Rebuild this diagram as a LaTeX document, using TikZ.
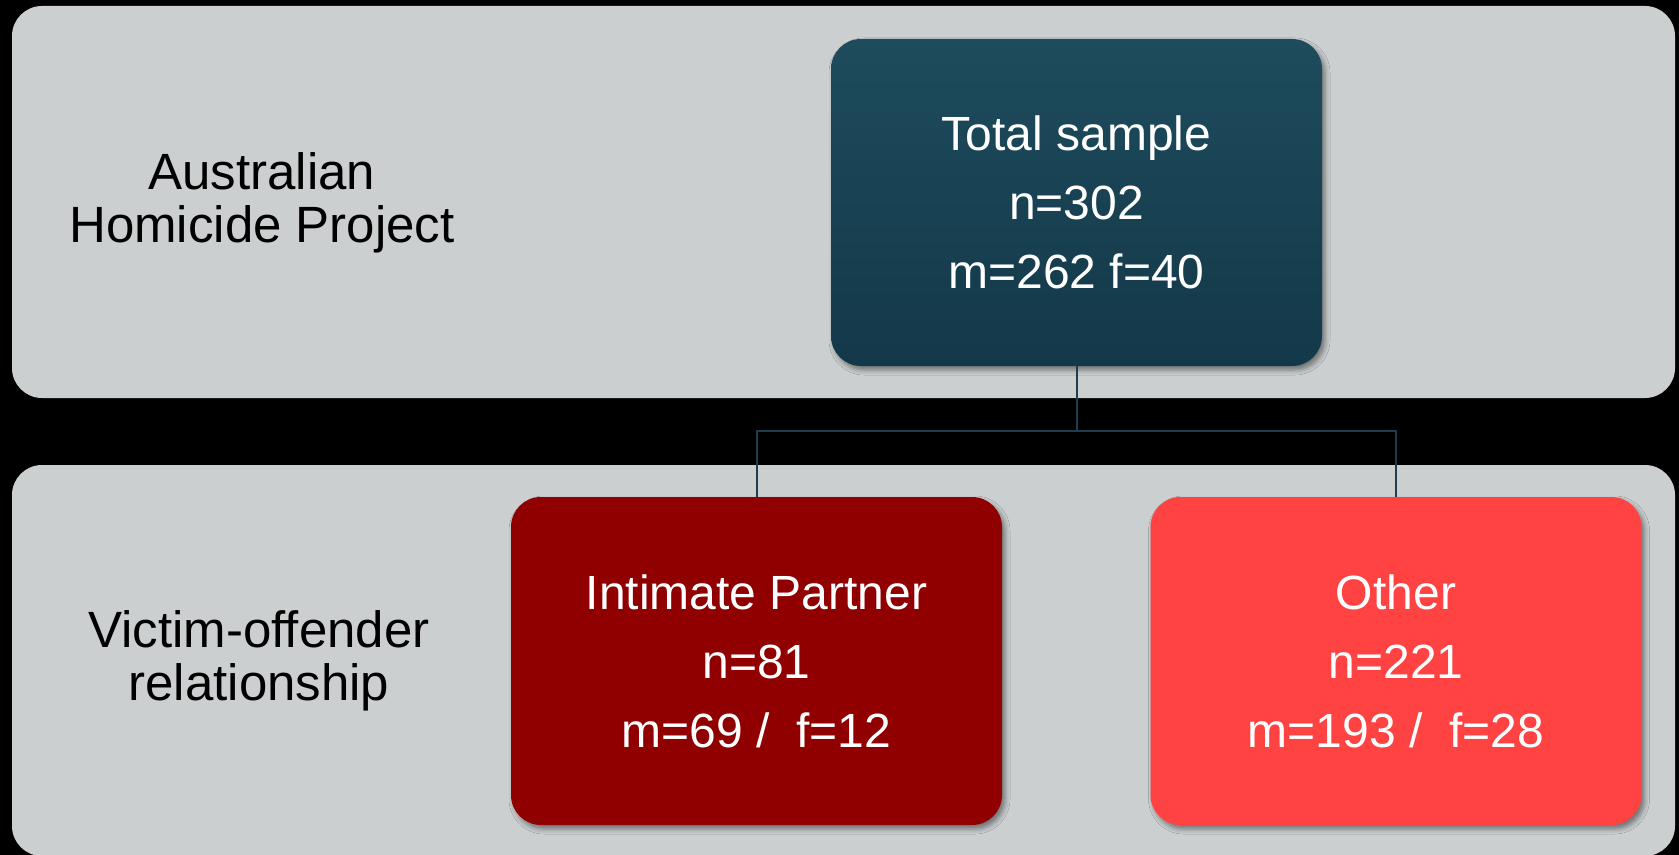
\documentclass[tikz,border=0pt]{standalone}
\usepackage{fontspec}
\setmainfont{Liberation Sans}
\usetikzlibrary{shadows.blur}
\definecolor{bandgray}{HTML}{CBCFD0}
\definecolor{tealtop}{HTML}{1E4C5D}
\definecolor{tealbot}{HTML}{133849}
\definecolor{darkred}{HTML}{900000}
\definecolor{lightred}{HTML}{FF4343}
\definecolor{linecol}{HTML}{1F3E4D}
\begin{document}
\begin{tikzpicture}[x=0.5pt,y=-0.5pt,
  box/.style={rounded corners=15pt,minimum width=245.5pt,minimum height=164pt,inner sep=0pt,
    align=center,text=white,font=\fontsize{24}{34.5}\selectfont,
    blur shadow={shadow xshift=1.5pt,shadow yshift=-2pt,shadow blur radius=2.5pt,shadow opacity=45}},
  side/.style={align=center,font=\fontsize{25.5}{26.5}\selectfont},
  conn/.style={draw=linecol,line width=1pt}]
\fill[black] (0,0) rectangle (1679,855);
\useasboundingbox (0,0) rectangle (1679,855);
% bands
\fill[bandgray,rounded corners=15pt] (12,6) rectangle (1675,398);
\fill[bandgray,rounded corners=15pt] (12,465) rectangle (1675,856);

\node(A)[side] at (262,203) {Australian\\Homicide Project};
\node(V)[side] at (259,661) {Victim-offender\\relationship};

\node(T)[box,top color=tealtop,bottom color=tealbot,minimum height=163.5pt] at (1076.5,202.5) {Total sample\\n=302\\m=262 f=40};
\node(P)[box,fill=darkred] at (756.5,661) {Intimate Partner\\n=81\\m=69 /\ \ f=12};
\node(O)[box,fill=lightred] at (1396,661) {Other\\n=221\\m=193 /\ \ f=28};

\coordinate(J) at (1076.5,431);
\draw[conn] (T.south) -- (J) -| (P.north);
\draw[conn] (J) -| (O.north);

\end{tikzpicture}
\end{document}
